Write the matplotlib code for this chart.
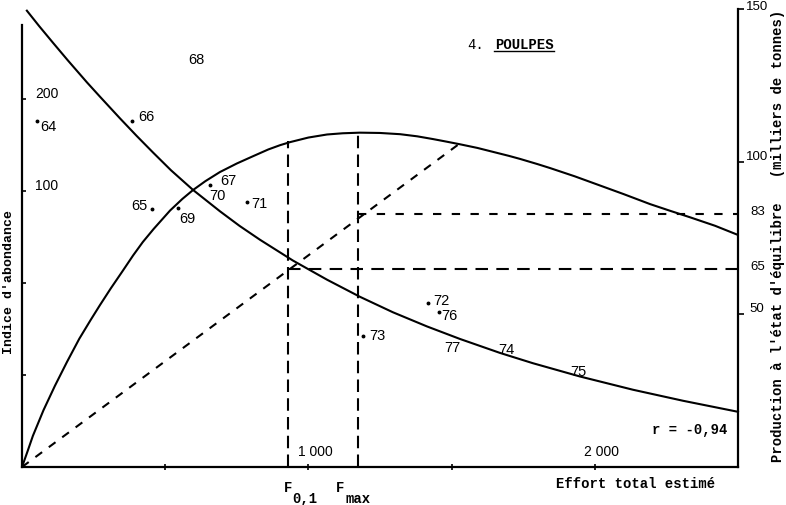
import matplotlib
matplotlib.use("Agg")
import matplotlib.pyplot as plt
from matplotlib.lines import Line2D

# ---------------- data ----------------
effort_prod = [0, 20, 38, 75, 115, 157, 200, 240, 272, 310, 350, 388, 422, 460, 517,
               560, 597, 640, 691, 750, 807, 860, 901, 936, 1000, 1065, 1120, 1180,
               1250, 1320, 1380, 1435, 1480, 1529, 1590, 1645, 1700, 1739, 1800, 1844,
               1930, 2018, 2100, 2193, 2260, 2332, 2420, 2500]
production = [0, 5.3, 10.2, 18.6, 26.6, 34.4, 42.0, 48.2, 53.0, 58.5, 64.0, 69.3, 73.7,
              78.0, 84.0, 87.8, 90.7, 93.6, 96.6, 99.4, 101.8, 104.0, 105.4, 106.4,
              107.9, 108.9, 109.3, 109.5, 109.4, 109.0, 108.3, 107.4, 106.6, 105.7,
              104.5, 103.2, 101.9, 100.9, 99.2, 97.9, 95.2, 92.2, 89.4, 86.1, 84.0,
              81.8, 79.0, 76.0]

effort_abund = [17, 60, 108, 160, 227, 272, 342, 400, 457, 520, 597, 691, 760, 831, 946,
                1065, 1180, 1295, 1414, 1529, 1669, 1784, 1948, 2133, 2308, 2500]
abundance = [248.0, 239.6, 230.6, 221.0, 209.0, 201.3, 189.5, 180.0, 171.0, 161.3, 150.6,
             139.0, 131.0, 123.5, 112.2, 101.8, 92.5, 84.1, 76.4, 69.6, 62.0, 56.4, 49.2,
             42.0, 36.0, 30.0]

years = ["64", "65", "66", "67", "68", "69", "70", "71", "72", "73", "74", "75", "76", "77"]
year_effort = [52, 454, 384, 656, 608, 545, 684, 786, 1418, 1191, 1690, 1941, 1456, 1502]
year_index = [188, 140, 188, 153, 222, 141, 148, 144, 89, 71, 64, 52, 84, 65]
year_dot = [True, True, True, True, False, True, False, True, True, True, False, False, True, False]

f01, fmax = 929, 1173
f01_yield, fmax_yield = 106.8, 109.5
tangent_end_effort, tangent_end_yield = 1529, 106.0
level_f01, level_fmax = 65, 83

x_tick_pos = [500, 1000, 1500, 2000]
x_tick_labels = ["", "1 000", "", "2 000"]
left_tick_pos = [50, 100, 150, 200]
left_tick_labels = ["", "", "100", "200"]
right_tick_pos = [50, 100, 150]
right_tick_labels = ["50", "100", "150"]

# ---------------- layout ----------------
W, H = 786, 506
fig = plt.figure(figsize=(W / 100, H / 100), dpi=100)
ax = fig.add_axes([22 / W, 38 / H, 716 / W, 458 / H])
ax2 = ax.twinx()

MONO = ["Liberation Mono", "DejaVu Sans Mono"]
SANS = ["Liberation Sans", "DejaVu Sans"]

ax.set_xlim(0, 2500)
ax.set_ylim(0, 458 / 1.84)
ax2.set_ylim(0, 150)

for a in (ax, ax2):
    a.spines["top"].set_visible(False)
    for s in a.spines.values():
        s.set_linewidth(1.6)
ax.spines["right"].set_visible(False)
ax2.spines["left"].set_visible(False)
ax2.spines["bottom"].set_visible(False)
ax.spines["left"].set_bounds(0, 240)

# tick marks (labels drawn as text inside / beside the axes)
ax.set_xticks(x_tick_pos)
ax.set_xticklabels([])
ax.tick_params(axis="x", direction="inout", length=4, width=1.2)
ax.set_yticks(left_tick_pos)
ax.set_yticklabels([])
ax.tick_params(axis="y", direction="in", length=3, width=1.2)
ax2.set_yticks(right_tick_pos)
ax2.set_yticklabels([])
ax2.tick_params(axis="y", direction="out", length=4, width=1.2)

# curves
ax.plot(effort_abund, abundance, color="black", lw=1.5, clip_on=False,
        solid_joinstyle="round")
ax2.plot(effort_prod, production, color="black", lw=1.5, solid_joinstyle="round")

# dashed construction lines
dk = dict(color="black", lw=1.5)
ax2.plot([f01, f01], [0, f01_yield], dashes=(6, 3), **dk)
ax2.plot([fmax, fmax], [0, fmax_yield], dashes=(6, 3), **dk)
ax2.plot([0, tangent_end_effort], [0, tangent_end_yield], dashes=(4, 4), **dk)
ax2.plot([f01, 2500], [level_f01, level_f01], dashes=(6, 4), **dk)
ax2.plot([fmax, 2500], [level_fmax, level_fmax], dashes=(4, 5), **dk)

# year points
for lab, fx_, iy, dot in zip(years, year_effort, year_index, year_dot):
    if dot:
        ax.plot([fx_], [iy], marker="o", ms=1.8, color="black", ls="none")
offsets = {"64": (11, -5), "65": (-13, 4), "66": (14, 5), "67": (18, 5), "68": (0, 0),
           "69": (9, -10), "70": (0, 0), "71": (12, -1), "72": (13, 3), "73": (14, 1),
           "74": (0, 0), "75": (0, 0), "76": (10, -3), "77": (0, 0)}
for lab, fx_, iy in zip(years, year_effort, year_index):
    dx, dy = offsets[lab]
    ax.annotate(lab, (fx_, iy), xytext=(dx * 0.72, dy * 0.72), textcoords="offset points",
                ha="center", va="center", fontsize=10.5, family=SANS)

# x tick labels inside the plot
for pos, lab in zip(x_tick_pos, x_tick_labels):
    if lab:
        ax.annotate(lab, (pos, 0), xytext=(5, 16 * 0.72), textcoords="offset points",
                    ha="center", va="center", fontsize=10, family=SANS)

# left tick labels inside the plot
for pos, lab in zip(left_tick_pos, left_tick_labels):
    if lab:
        ax.annotate(lab, (0, pos), xytext=(25 * 0.72, 6 * 0.72), textcoords="offset points",
                    ha="center", va="center", fontsize=10, family=SANS)

# right tick labels
for pos, lab in zip(right_tick_pos, right_tick_labels):
    dy = 3 if pos == 150 else 6
    ax2.annotate(lab, (2500, pos), xytext=(19 * 0.72, dy * 0.72), textcoords="offset points",
                 ha="center", va="center", fontsize=9.5, family=SANS)
for lvl in (level_fmax, level_f01):
    ax2.annotate(str(lvl), (2500, lvl), xytext=(20 * 0.72, 3 * 0.72), textcoords="offset points",
                 ha="center", va="center", fontsize=9.5, family=SANS)


def fx(x):
    return x / W


def fy(y):
    return 1 - y / H


# texts
fig.text(fx(476), fy(45), "4.", fontsize=10, family=MONO, ha="center", va="center")
fig.text(fx(524), fy(45), "POULPES", fontsize=10, family=MONO, weight="bold",
         ha="center", va="center")
fig.add_artist(Line2D([fx(494), fx(554)], [fy(52), fy(52)], color="black", lw=1.0))

fig.text(fx(636), fy(484), "Effort total estimé", fontsize=10, family=MONO,
         weight="bold", ha="center", va="center")
fig.text(fx(690), fy(430), "r = -0,94", fontsize=10, family=MONO, weight="bold",
         ha="center", va="center")

fig.text(fx(288), fy(488), "F", fontsize=10, family=MONO, weight="bold", ha="center", va="center")
fig.text(fx(305), fy(499), "0,1", fontsize=10, family=MONO, weight="bold", ha="center", va="center")
fig.text(fx(340), fy(488), "F", fontsize=10, family=MONO, weight="bold", ha="center", va="center")
fig.text(fx(358), fy(499), "max", fontsize=10, family=MONO, weight="bold", ha="center", va="center")

fig.text(fx(9), fy(282), "Indice d'abondance", fontsize=9.5, family=MONO, weight="bold",
         rotation=90, ha="center", va="center")
fig.text(fx(778), fy(236), "Production à l'état d'équilibre   (milliers de tonnes)",
         fontsize=10, family=MONO, weight="bold", rotation=90, ha="center", va="center")

fig.savefig("out.png", dpi=100)
